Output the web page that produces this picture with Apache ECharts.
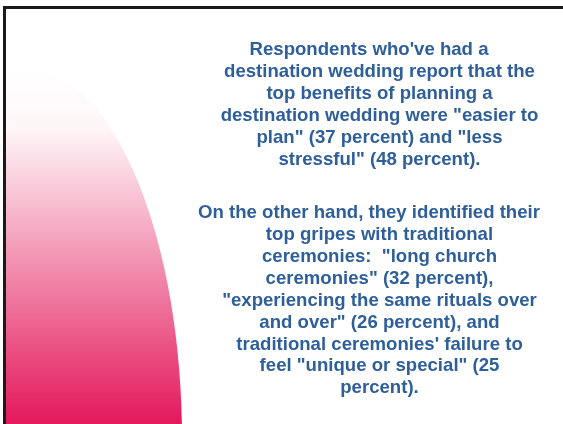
<!DOCTYPE html>
<html>
<head>
<meta charset="utf-8">
<script src="https://cdn.jsdelivr.net/npm/echarts@6/dist/echarts.min.js"></script>
<style>
  html, body { margin: 0; padding: 0; background: #fff; }
  #main { width: 563px; height: 424px; }
</style>
</head>
<body>
<div id="main"></div>
<script>
  // slide text, one entry per line as laid out on the slide
  const benefitLines = [
    'Respondents who\'ve had a',
    'destination wedding report that the',
    'top benefits of planning a',
    'destination wedding were "easier to',
    'plan" (37 percent) and "less',
    'stressful" (48 percent).'
  ]
  const gripeLines = [
    'On the other hand, they identified their',
    'top gripes with traditional',
    'ceremonies:  "long church',
    'ceremonies" (32 percent),',
    '"experiencing the same rituals over',
    'and over" (26 percent), and',
    'traditional ceremonies\' failure to',
    'feel "unique or special" (25',
    'percent).'
  ]

  const textColor = '#2E5F9A'
  const lineHeight = 21.9
  const centerX = 379.5

  function textBlock(lines, top) {
    return lines.map((line, i) => ({
      type: 'text',
      x: i === 0 ? centerX - 10.5 : centerX,
      y: top + i * lineHeight,
      style: {
        text: line,
        fill: textColor,
        font: 'bold 18.6px "Liberation Sans", Arial, sans-serif',
        align: 'center',
        verticalAlign: 'middle'
      }
    }))
  }

  const chart = echarts.init(document.getElementById('main'), null, { renderer: 'canvas' })
  chart.setOption({
    backgroundColor: '#ffffff',
    graphic: [
      // pink gradient arc on the left
      {
        type: 'ellipse',
        shape: { cx: 25, cy: 440, rx: 157, ry: 372 },
        style: {
          fill: {
            type: 'linear', x: 0, y: 68, x2: 0, y2: 424, global: true,
            colorStops: [
              { offset: 0, color: '#FFFFFF' },
              { offset: 0.17, color: '#FEF6F8' },
              { offset: 1, color: '#E4185C' }
            ]
          }
        }
      },
      { type: 'rect', shape: { x: 0, y: 0, width: 4, height: 424 }, style: { fill: '#ffffff' } },
      { type: 'rect', shape: { x: 0, y: 0, width: 563, height: 6 }, style: { fill: '#ffffff' } },
      // slide frame
      {
        type: 'polyline',
        shape: { points: [[4.5, 430], [4.5, 7.5], [570, 7.5]] },
        style: { stroke: '#1a1a1a', lineWidth: 3, fill: null }
      },
      ...textBlock(benefitLines, 50),
      ...textBlock(gripeLines, 213)
    ]
  })
</script>
</body>
</html>
